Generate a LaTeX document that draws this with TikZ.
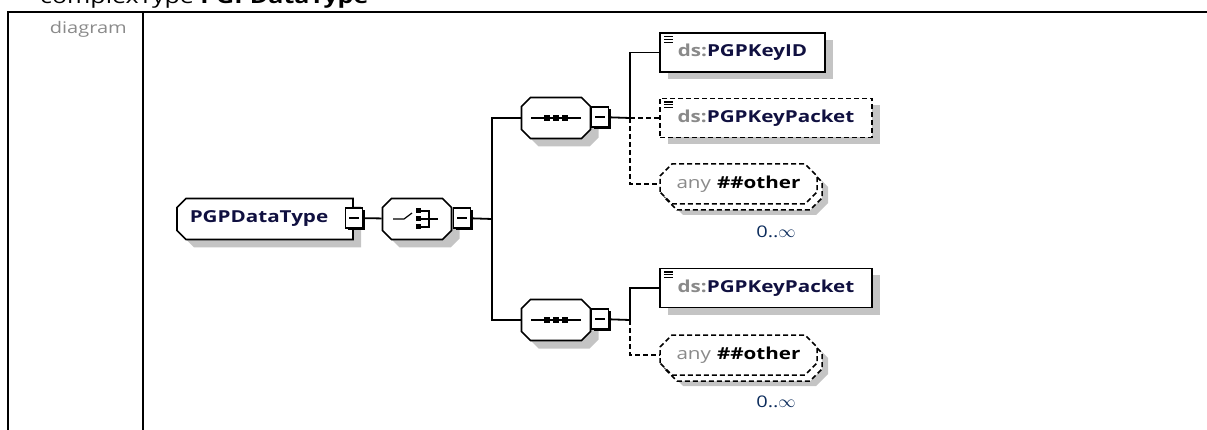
\documentclass[tikz,border=0pt]{standalone}
\usepackage{fontspec}
\setmainfont{Open Sans}[FakeStretch=1.25]
\usetikzlibrary{shadows,calc,positioning}

\definecolor{nametext}{HTML}{101040}
\definecolor{prefixgray}{HTML}{8A8A8A}
\definecolor{shadegray}{HTML}{C4C4C4}
\definecolor{occurtext}{HTML}{0C2C5C}
\newcommand\xsdfont{\fontsize{16.5}{19}\selectfont\bfseries}

% Achteck mit abgeschraegten Ecken (links/rechts getrennt einstellbar)
\makeatletter
\pgfkeys{/pgf/xsd left cut/.initial=9pt, /pgf/xsd right cut/.initial=9pt}
\pgfdeclareshape{xsd octagon}{
  \inheritsavedanchors[from=rectangle]
  \inheritanchorborder[from=rectangle]
  \inheritanchor[from=rectangle]{center}
  \inheritanchor[from=rectangle]{north}
  \inheritanchor[from=rectangle]{south}
  \inheritanchor[from=rectangle]{east}
  \inheritanchor[from=rectangle]{west}
  \inheritanchor[from=rectangle]{north east}
  \inheritanchor[from=rectangle]{north west}
  \inheritanchor[from=rectangle]{south east}
  \inheritanchor[from=rectangle]{south west}
  \inheritanchor[from=rectangle]{base}
  \inheritanchor[from=rectangle]{mid}
  \backgroundpath{%
    \pgfmathsetlength\pgf@xc{\pgfkeysvalueof{/pgf/outer xsep}}%
    \pgfmathsetlength\pgf@yc{\pgfkeysvalueof{/pgf/outer ysep}}%
    \southwest \edef\xsd@l{\the\dimexpr\pgf@x+\pgf@xc\relax}\edef\xsd@b{\the\dimexpr\pgf@y+\pgf@yc\relax}%
    \northeast \edef\xsd@r{\the\dimexpr\pgf@x-\pgf@xc\relax}\edef\xsd@t{\the\dimexpr\pgf@y-\pgf@yc\relax}%
    \pgfmathsetlength\pgf@xc{\pgfkeysvalueof{/pgf/xsd left cut}}\edef\xsd@cl{\the\pgf@xc}%
    \pgfmathsetlength\pgf@xc{\pgfkeysvalueof{/pgf/xsd right cut}}\edef\xsd@cr{\the\pgf@xc}%
    \pgfpathmoveto{\pgfqpoint{\xsd@l}{\dimexpr\xsd@b+\xsd@cl\relax}}%
    \pgfpathlineto{\pgfqpoint{\xsd@l}{\dimexpr\xsd@t-\xsd@cl\relax}}%
    \pgfpathlineto{\pgfqpoint{\dimexpr\xsd@l+\xsd@cl\relax}{\xsd@t}}%
    \pgfpathlineto{\pgfqpoint{\dimexpr\xsd@r-\xsd@cr\relax}{\xsd@t}}%
    \pgfpathlineto{\pgfqpoint{\xsd@r}{\dimexpr\xsd@t-\xsd@cr\relax}}%
    \pgfpathlineto{\pgfqpoint{\xsd@r}{\dimexpr\xsd@b+\xsd@cr\relax}}%
    \pgfpathlineto{\pgfqpoint{\dimexpr\xsd@r-\xsd@cr\relax}{\xsd@b}}%
    \pgfpathlineto{\pgfqpoint{\dimexpr\xsd@l+\xsd@cl\relax}{\xsd@b}}%
    \pgfpathclose
  }
}
\makeatother

\tikzset{
  elembox/.style={
    rectangle, draw=black, fill=white, line width=1.7pt,
    minimum height=39pt, inner sep=0pt,
    font=\xsdfont, text=nametext,
    drop shadow={shadow xshift=8pt, shadow yshift=-7pt, fill=shadegray, opacity=1},
    path picture={
      \foreach \k in {0,1,2}
        \draw[solid, black, line width=1.1pt] ($(path picture bounding box.north west)+(4,3.5+2.8*\k)$) -- ++(9,0);
    }
  },
  optbox/.style={elembox, dash pattern=on 5pt off 3pt},
  topbox/.style={
    shape=xsd octagon, /pgf/xsd left cut=9pt, /pgf/xsd right cut=0pt,
    draw=black, fill=white, line width=1.7pt,
    minimum width=176pt, minimum height=41pt, inner sep=0pt,
    font=\xsdfont, text=nametext,
    drop shadow={shadow xshift=8pt, shadow yshift=-8pt, fill=shadegray, opacity=1}
  },
  compbox/.style={
    shape=xsd octagon, /pgf/xsd left cut=9pt, /pgf/xsd right cut=9pt,
    draw=black, fill=white, line width=1.7pt,
    minimum width=69pt, minimum height=41pt, inner sep=0pt,
    drop shadow={shadow xshift=8pt, shadow yshift=-8pt, fill=shadegray, opacity=1}
  },
  seqbox/.style={compbox,
    path picture={
      \begin{scope}[shift={(path picture bounding box.center)}]
        \draw[black, line width=1.2pt] (-25,0) -- (25,0);
        \foreach \dx in {-9,0,9} \fill[black] (\dx-3,-3) rectangle (\dx+3,3);
      \end{scope}
    }
  },
  choicebox/.style={compbox,
    path picture={
      \begin{scope}[shift={(path picture bounding box.center)}]
        \draw[black, line width=1.2pt] (-24,0) -- (-13,0) -- (-5,-6);
        \foreach \dy in {-8,0,8} \fill[black] (-1.5,\dy-2.5) rectangle (3.5,\dy+2.5);
        \draw[black, line width=1.2pt] (3,-8) -- (12,-8) -- (12,8) -- (3,8) (3,0) -- (21,0);
      \end{scope}
    }
  },
  minusbox/.style={
    rectangle, draw=black, fill=white, line width=1.5pt,
    minimum width=17pt, minimum height=20pt, inner sep=0pt,
    drop shadow={shadow xshift=2.4pt, shadow yshift=-2.4pt, fill=black, opacity=1},
    path picture={
      \draw[black, line width=1.2pt] ($(path picture bounding box.west)+(3.5,0)$) -- ($(path picture bounding box.east)+(-3.5,0)$);
    }
  },
  anybox/.style={
    shape=xsd octagon, /pgf/xsd left cut=12pt, /pgf/xsd right cut=12pt,
    draw=black, fill=white, line width=1.5pt, dash pattern=on 5pt off 3pt,
    minimum width=157pt, minimum height=40pt, inner sep=0pt,
    font=\xsdfont, text=black,
    general shadow={shadow xshift=11pt, shadow yshift=-11pt, fill=shadegray},
    general shadow={shadow xshift=5pt, shadow yshift=-6pt, fill=white, draw=black,
      dash pattern=on 5pt off 3pt, line width=1.5pt}
  },
  occurs/.style={font=\fontsize{16}{19}\selectfont, text=occurtext, inner sep=0pt},
  link/.style={line width=1.8pt},
  optlink/.style={line width=1.6pt, dash pattern=on 5pt off 3pt}
}

\begin{document}
\begin{tikzpicture}[x=1pt, y=-1pt]
\useasboundingbox (0,0) rectangle (1207,430);
\clip (0,0) rectangle (1207,430);

% Rahmen
\node[anchor=base west, inner sep=0pt, font=\fontsize{20}{24}\selectfont] (title) at (40,4) {complexType \textbf{PGPDataType}};
\draw[line width=2pt] (8,440) -- (8,12) -- (1215,12);
\draw[line width=2pt] (143,12) -- (143,440);
\node[anchor=base east, inner sep=0pt, font=\fontsize{16}{19}\selectfont, text=prefixgray] (diaglabel) at (127,34) {diagram};

% Typ und Auswahl
\node[topbox] (dtype) at (265,219) {PGPDataType\hspace*{12pt}};
\node[minusbox] (dtminus) at (354,218) {};
\node[choicebox] (choice) at (417,219) {};
\node[minusbox] (choiceminus) at (462,218) {};
\coordinate (jmain) at (492,219);

% Sequenzen
\node[seqbox] (seqa) at (556,118) {};
\node[minusbox] (seqaminus) at (600,117) {};
\node[seqbox] (seqb) at (556,320) {};
\node[minusbox] (seqbminus) at (600,319) {};
\coordinate (ja) at (630,118);
\coordinate (jb) at (630,320);

% Elemente
\node[elembox, minimum width=165pt] (keyid) at (742.5,52.5) {{\color{prefixgray}ds:}PGPKeyID};
\node[optbox, minimum width=212pt] (keypacket) at (766,118) {{\color{prefixgray}ds:}PGPKeyPacket};
\node[anybox] (anya) at (738.5,184) {{\color{prefixgray}\mdseries any}\hspace{6pt}\#\#other};
\node[occurs] (occa) at (776,232) {0..\ensuremath{\infty}};

\node[elembox, minimum width=212pt] (keypacketb) at (766,288) {{\color{prefixgray}ds:}PGPKeyPacket};
\node[anybox] (anyb) at (738.5,355) {{\color{prefixgray}\mdseries any}\hspace{6pt}\#\#other};
\node[occurs] (occb) at (776,402) {0..\ensuremath{\infty}};

% Verbindungen
\draw[link] (dtminus) -- (choice);
\draw[link] (choiceminus) -- (jmain);
\draw[link] (seqa) -| (jmain) |- (seqb);
\draw[link] (seqaminus) -- (ja);
\draw[link] (keyid) -| (ja);
\draw[optlink] (ja) -- (keypacket);
\draw[optlink] (ja) |- (anya);
\draw[link] (seqbminus) -- (jb);
\draw[link] (keypacketb) -| (jb);
\draw[optlink] (jb) |- (anyb);

\end{tikzpicture}
\end{document}
